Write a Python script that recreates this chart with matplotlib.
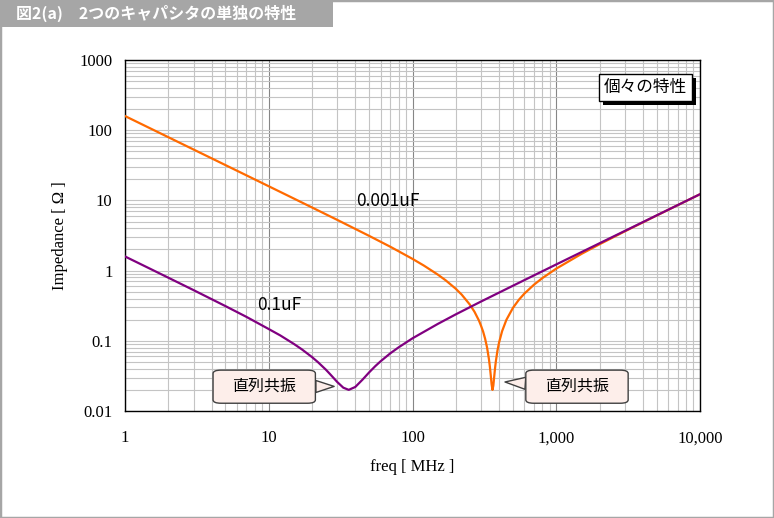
import matplotlib
matplotlib.use("Agg")
import matplotlib.pyplot as plt
from matplotlib.patches import Rectangle
from matplotlib.ticker import FixedLocator, FixedFormatter, LogLocator, NullFormatter
import matplotlib.patheffects as pe

# --- data (freq in MHz, impedance in ohm) ---
freq_01uF = [1, 1.5, 2, 3, 5, 7, 10, 12, 15, 17, 20, 22, 25, 27, 30, 33, 36, 40, 45,
             50, 55, 60, 70, 80, 100, 150, 200, 300, 500, 700, 1000, 2000, 3000,
             5000, 7000, 10000]
z_01uF = [1.59, 1.059, 0.793, 0.527, 0.312, 0.219, 0.147, 0.1196, 0.0899, 0.0755,
          0.0586, 0.0496, 0.0387, 0.0327, 0.0258, 0.0215, 0.0200, 0.0220, 0.0281,
          0.0356, 0.0434, 0.0511, 0.0662, 0.0806, 0.1085, 0.174, 0.238, 0.363,
          0.609, 0.855, 1.224, 2.45, 3.675, 6.126, 8.576, 12.25]

freq_0001uF = [1, 1.5, 2, 3, 5, 7, 10, 15, 20, 30, 50, 70, 100, 120, 150, 170, 200,
               220, 250, 270, 290, 300, 310, 320, 330, 340, 345, 350, 355, 360, 365,
               370, 375, 380, 390, 400, 420, 450, 500, 550, 600, 700, 800, 1000,
               1500, 2000, 3000, 5000, 7000, 10000]
z_0001uF = [159.1, 106.1, 79.57, 53.05, 31.83, 22.73, 15.90, 10.59, 7.93, 5.27, 3.12,
            2.19, 1.469, 1.179, 0.877, 0.728, 0.551, 0.454, 0.330, 0.259, 0.194,
            0.163, 0.1351, 0.107, 0.0805, 0.0552, 0.0435, 0.0327, 0.0241, 0.020,
            0.0229, 0.0306, 0.0404, 0.0509, 0.0725, 0.0943, 0.137, 0.199, 0.295,
            0.385, 0.470, 0.630, 0.781, 1.066, 1.732, 2.371, 3.622, 6.094, 8.553,
            12.24]

x_ticks = [1, 10, 100, 1000, 10000]
x_ticklabels = ["1", "10", "100", "1,000", "10,000"]
y_ticks = [0.01, 0.1, 1, 10, 100, 1000]
y_ticklabels = ["0.01", "0.1", "1", "10", "100", "1000"]

title = "図2(a)\u30002つのキャパシタの単独の特性"
cjk = ["Noto Sans CJK JP", "DejaVu Sans"]
serif = "Liberation Serif"

W, H = 774, 518
fig = plt.figure(figsize=(W / 100, H / 100), dpi=100)
ax = fig.add_axes([125 / W, 1 - 411 / H, 575 / W, 351 / H])

ax.plot(freq_0001uF, z_0001uF, color="#ff6a00", lw=1.6, zorder=3)
ax.plot(freq_01uF, z_01uF, color="#800080", lw=1.6, zorder=3)

ax.set_xscale("log")
ax.set_yscale("log")
ax.set_xlim(1, 10000)
ax.set_ylim(0.01, 1000)

ax.xaxis.set_major_locator(FixedLocator(x_ticks))
ax.xaxis.set_major_formatter(FixedFormatter(x_ticklabels))
ax.yaxis.set_major_locator(FixedLocator(y_ticks))
ax.yaxis.set_major_formatter(FixedFormatter(y_ticklabels))
for a in (ax.xaxis, ax.yaxis):
    a.set_minor_locator(LogLocator(base=10, subs=range(2, 10), numticks=20))
    a.set_minor_formatter(NullFormatter())

ax.grid(True, which="minor", axis="both", color="#c4c4c4", lw=0.8)
ax.grid(True, which="major", axis="y", color="#c4c4c4", lw=0.8)
ax.grid(True, which="major", axis="x", color="#868686", lw=0.8)
ax.set_axisbelow(True)
ax.tick_params(which="both", length=0)
ax.tick_params(axis="x", pad=14, labelsize=12)
ax.tick_params(axis="y", pad=9, labelsize=12)
for lab in ax.get_xticklabels() + ax.get_yticklabels():
    lab.set_fontfamily(serif)
for s in ax.spines.values():
    s.set_color("black")
    s.set_linewidth(1.0)

ax.set_xlabel("freq [ MHz ]", fontfamily=serif, fontsize=12, labelpad=9)
ax.set_ylabel("Impedance [ Ω ]", fontfamily=serif, fontsize=12, labelpad=8)

# curve labels
ax.text(67, 9.8, "0.001uF", family=cjk, fontsize=12.5, ha="center", va="center")
ax.text(11.9, 0.323, "0.1uF", family=cjk, fontsize=12.5, ha="center", va="center")

# legend-like box with shadow
t = ax.text(0.905, 0.922, "個々の特性", family=cjk, fontsize=12, ha="center",
            va="center", transform=ax.transAxes,
            bbox=dict(boxstyle="square,pad=0.28", fc="white", ec="black", lw=1.0))
t.get_bbox_patch().set_path_effects([
    pe.SimplePatchShadow(offset=(3, -3), shadow_rgbFace="black", alpha=1.0),
    pe.Normal()])

# callouts
callout_box = dict(boxstyle="round,pad=1.2,rounding_size=0.5", fc="#fdeeea",
                   ec="#404040", lw=1.0, mutation_aspect=0.42)
wedge = dict(arrowstyle="wedge,tail_width=0.75,shrink_factor=0.5", fc="#fdeeea",
             ec="#404040", lw=1.0, shrinkA=0, shrinkB=0)
ax.annotate("直列共振", xy=(28.5, 0.0224), xytext=(9.3, 0.0222), textcoords="data",
            family=cjk, fontsize=11.5, ha="center", va="center",
            bbox=callout_box, arrowprops=wedge, zorder=5)
ax.annotate("直列共振", xy=(440, 0.0259), xytext=(1394, 0.0222), textcoords="data",
            family=cjk, fontsize=11.5, ha="center", va="center",
            bbox=callout_box, arrowprops=wedge, zorder=5)

# title bar and outer frame
fig.patches.append(Rectangle((0, 1 - 27 / H), 333 / W, 27 / H, transform=fig.transFigure,
                             fc="#a6a6a6", ec="none", zorder=0))
fig.text(16 / W, 1 - 13.5 / H, title, family=cjk, fontsize=11.5, fontweight="bold",
         color="white", ha="left", va="center")
fig.patches.append(Rectangle((0, 0), 1, 1, transform=fig.transFigure, fill=False,
                             ec="#a6a6a6", lw=2.5, zorder=10))

fig.savefig("out.png", dpi=100)
